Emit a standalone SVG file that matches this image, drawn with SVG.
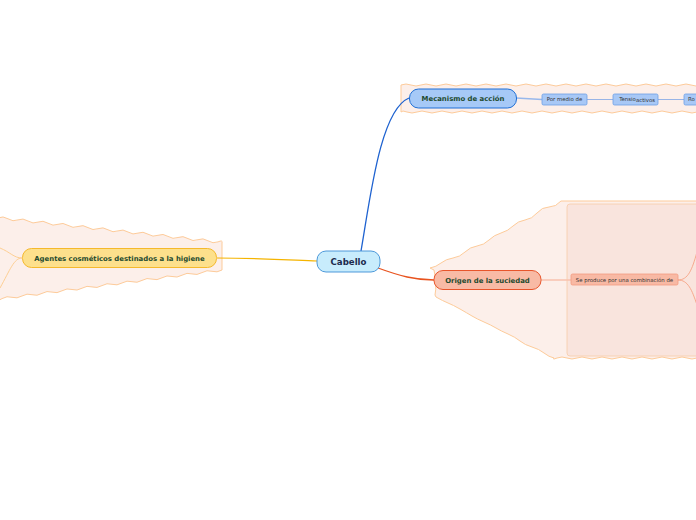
<svg xmlns="http://www.w3.org/2000/svg" width="696" height="520" viewBox="0 0 696 520">
<style>
.bd{fill:#fcefea;stroke:#fdcb9a;stroke-width:1}
.t1{font-family:"DejaVu Sans",Verdana,sans-serif;font-weight:bold;fill:#1d4a2e;text-anchor:middle}
.t2{font-family:"DejaVu Sans",Verdana,sans-serif;fill:#333;text-anchor:middle;font-size:5.4px}
.sub{fill:#a8c8f6;stroke:#6c9fe6;stroke-width:0.8}
</style>
<rect width="696" height="520" fill="#fff"/>
<g id="boundaries">
<path class="bd" d="M401,85 q5,-2 10,0 t10,0 t10,0 t10,0 t10,0 t10,0 t10,0 t10,0 t10,0 t10,0 t10,0 t10,0 t10,0 t10,0 t10,0 t10,0 t10,0 t10,0 t10,0 t10,0 t10,0 t10,0 t10,0 t10,0 t10,0 t10,0 t10,0 t10,0 t10,0 t10,0 L697,112 q-5,2 -10,0 t-10,0 t-10,0 t-10,0 t-10,0 t-10,0 t-10,0 t-10,0 t-10,0 t-10,0 t-10,0 t-10,0 t-10,0 t-10,0 t-10,0 t-10,0 t-10,0 t-10,0 t-10,0 t-10,0 t-10,0 t-10,0 t-10,0 t-10,0 t-10,0 t-10,0 t-10,0 t-10,0 t-10,0 t-6,0 Z"/>
<path class="bd" d="M-2,218 q5,-2.5 10,0.8 t10,1.1 t10,1.1 t10,1.1 t10,1.1 t10,1.1 t10,1.1 t10,1.1 t10,1.1 t10,1.1 t10,1.1 t10,1.1 t10,1.1 t10,1.1 t10,1.1 t10,1.1 t10,1.1 t10,1.1 t10,1.1 t10,1.1 t10,1.1 t10,1.1 t4,1 L222,270 q-5,3 -10,1.3 t-10,1.3 t-10,1.3 t-10,1.3 t-10,1.3 t-10,1.3 t-10,1.3 t-10,1.3 t-10,1.3 t-10,1.3 t-10,1.3 t-10,1.3 t-10,1.3 t-10,1.3 t-10,1.3 t-10,1.3 t-10,1.3 t-10,1.3 t-10,1.3 t-10,1.3 t-10,1.3 t-10,1.3 t-4,0.5 Z"/>
<path class="bd" d="M430,268 q6,-1 11,-5 t12,-5 t12,-6 t12,-6 t12,-6 t12,-7 t12,-7 t12,-6 t12,-7 t12,-6 t12,-6 q5,0 10,0 t10,0 t10,0 t10,0 t10,0 t10,0 t10,0 t10,0 t10,0 t10,0 t10,0 t10,0 t10,0 t10,0 t5,0 L697,358 q-5,2 -10,0 t-10,0 t-10,0 t-10,0 t-10,0 t-10,0 t-10,0 t-10,0 t-10,0 t-10,0 t-10,0 t-10,0 t-10,0 t-10,0 t-3,0 q-5,-1 -10,-5 t-12,-6 t-12,-6 t-12,-7 t-12,-6 t-12,-6 t-12,-6 t-12,-7 t-12,-6 t-12,-6 l-1,-2 q2,-10 -1,-25 Z"/>
<rect x="567" y="204" width="135" height="152" rx="3" fill="#f9e4dd" stroke="#f8cba8" stroke-width="0.8"/>
</g>
<g id="connectors" fill="none">
<path d="M361,251 C370,200 380,110 409,98" stroke="#1e62d0" stroke-width="1.3"/>
<path d="M217,258 C260,258 290,260 317,261" stroke="#f5b400" stroke-width="1.2"/>
<path d="M378,268 C400,276 415,280 434,280" stroke="#e8531f" stroke-width="1.3"/>
<path d="M516,98 L542,99.5" stroke="#98b8ec" stroke-width="1.5"/>
<path d="M587,99.5 L613,99.5" stroke="#7ea4e4" stroke-width="0.8"/>
<path d="M658,99.5 L684,99.5" stroke="#7ea4e4" stroke-width="0.8"/>
<path d="M541,280 L571,280" stroke="#f8c2ae" stroke-width="1.5"/>
<path d="M678,280 C688,280 692,270 697,252 M678,280 C688,280 692,290 697,305" stroke="#f6a385" stroke-width="0.9"/>
<path d="M22,258 C14,258 10,252 0,248 M22,258 C14,258 10,270 0,288" stroke="#fdcb8a" stroke-width="0.9"/>
</g>
<g id="cabello">
<rect x="317" y="251" width="63" height="21" rx="9" fill="#c8ecfc" stroke="#3c8fd6" stroke-width="0.9"/>
<text x="348.5" y="265" class="t1" style="fill:#1c2a4c;font-size:8.6px">Cabello</text>
</g>
<g id="mecanismo">
<rect x="409.5" y="89" width="107" height="19" rx="9" fill="#a6c9f7" stroke="#1f6fd6" stroke-width="1"/>
<text x="463" y="101" class="t1" style="font-size:6.9px">Mecanismo de acción</text>
</g>
<g id="por-medio">
<rect class="sub" x="542" y="94" width="45" height="11" rx="1.5"/>
<text x="564.5" y="101.3" class="t2">Por medio de</text>
</g>
<g id="tensioactivos">
<rect class="sub" x="613" y="94" width="45" height="11" rx="1.5"/>
<text x="627.5" y="100.8" class="t2">Tensio</text>
<text x="645.5" y="102" class="t2">activos</text>
</g>
<g id="ro">
<rect class="sub" x="684" y="94" width="20" height="11" rx="1.5"/>
<text x="688" y="101.3" class="t2" style="text-anchor:start">Ro</text>
</g>
<g id="agentes">
<rect x="22.5" y="248.5" width="194" height="19" rx="9" fill="#fde08c" stroke="#f5b92c" stroke-width="1"/>
<text x="119.5" y="260.5" class="t1" style="font-size:6.9px">Agentes cosméticos destinados a la higiene</text>
</g>
<g id="origen">
<rect x="434" y="270.5" width="107" height="19" rx="9" fill="#f8baa5" stroke="#e8552b" stroke-width="1"/>
<text x="487.5" y="282.5" class="t1" style="font-size:6.9px">Origen de la suciedad</text>
</g>
<g id="se-produce">
<rect x="571" y="274" width="107" height="11" rx="1.5" fill="#f8b9a4" stroke="#f29a80" stroke-width="0.8"/>
<text x="624.5" y="281.5" class="t2">Se produce por una combinación de</text>
</g>
</svg>
